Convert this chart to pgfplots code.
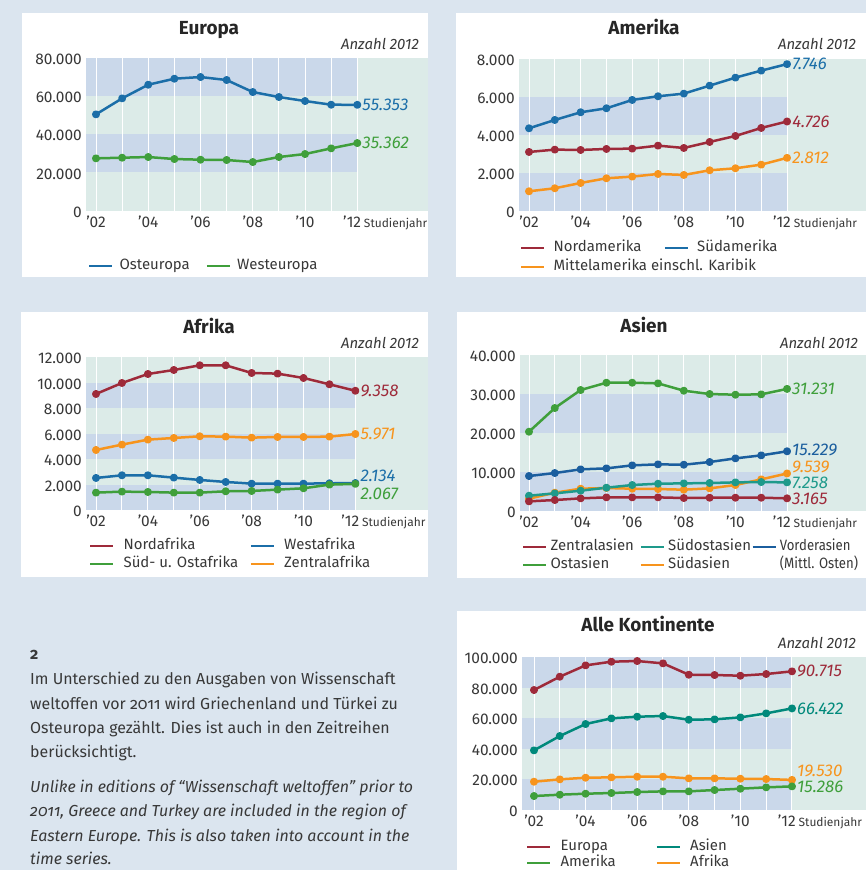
\documentclass[border=0pt]{standalone}
\usepackage{fontspec}
\setmainfont{Fira Sans}
\usepackage{graphicx}
\usepackage{pgfplots}
\pgfplotsset{compat=1.18}
\definecolor{pagebg}{HTML}{DBE5EF}
\definecolor{bandblue}{HTML}{CAD8EA}
\definecolor{bandgreen}{HTML}{DCEBE8}
\definecolor{cred}{HTML}{9E2A3A}
\definecolor{cblue}{HTML}{1B6EA8}
\definecolor{cgreen}{HTML}{3F9F3B}
\definecolor{corange}{HTML}{F7941D}
\definecolor{cteal}{HTML}{1E9A8B}
\definecolor{cteal2}{HTML}{00897B}
\definecolor{cdblue}{HTML}{1B5E9E}
\definecolor{txtgray}{HTML}{383838}
\newcommand\tickfont{\fontsize{15.5}{18}\selectfont}
\newcommand\legfont{\fontsize{15}{18}\selectfont}
\newcommand\valfont{\fontsize{17}{20}\selectfont\itshape}
\newcommand\titlefont{\fontsize{19}{22}\selectfont\bfseries}
\newcommand\anzfont{\fontsize{15}{18}\selectfont\itshape}
\newcommand\sjfont{\fontsize{12}{14}\selectfont}
\newcommand\bodyfont{\fontsize{16}{20}\selectfont}
\tikzset{vl/.style={anchor=west, font=\valfont, inner sep=0pt, xshift=5bp}}
\pgfplotsset{
  panel/.style={
    scale only axis, clip=false, anchor=south west,
    axis line style={draw=none}, tick style={draw=none},
    scaled y ticks=false,
    xtick={2,4,6,8,10}, xticklabels={’02,’04,’06,’08,’10},
    xticklabel style={font=\tickfont, anchor=base, inner sep=0pt, yshift=-16.5bp, text=txtgray},
    yticklabel style={font=\tickfont, anchor=east, inner sep=0pt, xshift=-4bp, yshift=-1.5bp, text=txtgray},
    ymin=0,
    every axis plot/.append style={line width=2.5bp, mark=*, mark size=2.7bp, line join=round},
    legend image code/.code={\draw[##1, line width=2.6bp] (0bp,0bp) -- (23bp,0bp);},
    legend style={draw=none, fill=none, inner sep=0pt, outer sep=0pt, anchor=north west,
      font=\legfont, text=txtgray,
      nodes={inner sep=0pt, text height=10.5bp, text depth=3.5bp}},
    legend cell align=left,
  },
}
\newcommand\yrlines[1]{%
  \draw[white, line width=1bp] (axis cs:2,0) -- (axis cs:2,#1);
  \draw[white, line width=1bp] (axis cs:3,0) -- (axis cs:3,#1);
  \draw[white, line width=1bp] (axis cs:4,0) -- (axis cs:4,#1);
  \draw[white, line width=1bp] (axis cs:5,0) -- (axis cs:5,#1);
  \draw[white, line width=1bp] (axis cs:6,0) -- (axis cs:6,#1);
  \draw[white, line width=1bp] (axis cs:7,0) -- (axis cs:7,#1);
  \draw[white, line width=1bp] (axis cs:8,0) -- (axis cs:8,#1);
  \draw[white, line width=1bp] (axis cs:9,0) -- (axis cs:9,#1);
  \draw[white, line width=1bp] (axis cs:10,0) -- (axis cs:10,#1);
  \draw[white, line width=1bp] (axis cs:11,0) -- (axis cs:11,#1);
  \draw[white, line width=1bp] (axis cs:12,0) -- (axis cs:12,#1);
  \node[anchor=base east, font=\tickfont, inner sep=0pt, text=txtgray] at (axis cs:12,0) [xshift=4bp, yshift=-16.5bp] {’12};
  \node[anchor=base west, font=\sjfont, inner sep=0pt, text=txtgray] at (axis cs:12,0) [xshift=6.5bp, yshift=-16.5bp] {Studienjahr};
}
\begin{document}
\begin{tikzpicture}
\path[use as bounding box] (0,0) rectangle (866bp,870bp);
\fill[pagebg] (0,0) rectangle (866bp,870bp);
\clip (0,0) rectangle (866bp,870bp);
% white panels
\fill[white] (22bp,593bp) rectangle (428bp,857bp);
\fill[white] (456bp,593bp) rectangle (866bp,857bp);
\fill[white] (21bp,293bp) rectangle (428bp,558bp);
\fill[white] (457bp,292bp) rectangle (866bp,558bp);
\fill[white] (457bp,0bp) rectangle (866bp,259bp);

% ---------------- Europa
\begin{axis}[panel, at={(86bp,659.3bp)}, width=342bp, height=153bp,
  xmin=1.617, xmax=14.706, ymax=80000,
  ytick={0,20000,40000,60000,80000}, yticklabels={0,20.000,40.000,60.000,80.000},
  legend columns=2,
  legend style={at={(axis description cs:0.0058,-0.3157)},
    /tikz/every odd column/.append style={column sep=6bp}}]
\fill[bandgreen] (axis cs:1.617,0) rectangle (axis cs:14.706,80000);
\fill[bandblue] (axis cs:1.617,20000) rectangle (axis cs:12,40000);
\fill[bandblue] (axis cs:1.617,60000) rectangle (axis cs:12,80000);
\yrlines{80000}
\addplot[cblue, forget plot] coordinates {(2,50370)(3,58736)(4,65882)(5,69020)(6,69891)(7,68322)(8,62048)(9,59434)(10,57342)(11,55425)(12,55353)};
\addplot[cgreen, forget plot] coordinates {(2,27364)(3,27712)(4,28061)(5,27015)(6,26667)(7,26492)(8,25447)(9,28061)(10,29630)(11,32593)(12,35362)};
\addlegendimage{cblue}\addlegendentry{\makebox[86bp][l]{Osteuropa}}
\addlegendimage{cgreen}\addlegendentry{Westeuropa}
\node[vl, text=cblue] at (axis cs:12,55353) {55.353};
\node[vl, text=cgreen] at (axis cs:12,35362) {35.362};
\end{axis}

% ---------------- Amerika
\begin{axis}[panel, at={(519bp,658.7bp)}, width=347bp, height=152bp,
  xmin=1.612, xmax=15.06, ymax=8000,
  ytick={0,2000,4000,6000,8000}, yticklabels={0,2.000,4.000,6.000,8.000},
  legend columns=2,
  legend style={at={(axis description cs:0.0029,-0.1954)}, row sep=5bp,
    /tikz/every odd column/.append style={column sep=8bp}}]
\fill[bandgreen] (axis cs:1.612,0) rectangle (axis cs:15.06,8000);
\fill[bandblue] (axis cs:1.612,0) rectangle (axis cs:12,2000);
\fill[bandblue] (axis cs:1.612,4000) rectangle (axis cs:12,6000);
\yrlines{8000}
\addplot[cred, forget plot] coordinates {(2,3123)(3,3246)(4,3228)(5,3281)(6,3298)(7,3456)(8,3333)(9,3649)(10,3965)(11,4386)(12,4726)};
\addplot[cblue, forget plot] coordinates {(2,4368)(3,4807)(4,5211)(5,5421)(6,5860)(7,6053)(8,6193)(9,6614)(10,7035)(11,7404)(12,7746)};
\addplot[corange, forget plot] coordinates {(2,1053)(3,1211)(4,1491)(5,1737)(6,1825)(7,1965)(8,1912)(9,2158)(10,2263)(11,2456)(12,2812)};
\addlegendimage{cred}\addlegendentry{\makebox[110bp][l]{Nordamerika}}
\addlegendimage{cblue}\addlegendentry{Südamerika}
\addlegendimage{corange}\addlegendentry{\makebox[110bp][l]{Mittelamerika einschl. Karibik}}
\node[vl, text=cblue] at (axis cs:12,7746) {7.746};
\node[vl, text=cred] at (axis cs:12,4726) {4.726};
\node[vl, text=corange] at (axis cs:12,2812) {2.812};
\end{axis}

% ---------------- Afrika
\begin{axis}[panel, at={(86bp,359.7bp)}, width=342bp, height=153.3bp,
  xmin=1.614, xmax=14.80, ymax=12000,
  ytick={0,2000,4000,6000,8000,10000,12000}, yticklabels={0,2.000,4.000,6.000,8.000,10.000,12.000},
  legend columns=2,
  legend style={at={(axis description cs:0.0088,-0.1872)}, row sep=4bp,
    /tikz/every odd column/.append style={column sep=9bp}}]
\fill[bandgreen] (axis cs:1.614,0) rectangle (axis cs:14.80,12000);
\fill[bandblue] (axis cs:1.614,0) rectangle (axis cs:12,2000);
\fill[bandblue] (axis cs:1.614,4000) rectangle (axis cs:12,6000);
\fill[bandblue] (axis cs:1.614,8000) rectangle (axis cs:12,10000);
\yrlines{12000}
\addplot[cred, forget plot] coordinates {(2,9105)(3,9966)(4,10670)(5,10983)(6,11349)(7,11349)(8,10749)(9,10697)(10,10357)(11,9862)(12,9358)};
\addplot[cblue, forget plot] coordinates {(2,2531)(3,2739)(4,2739)(5,2557)(6,2374)(7,2218)(8,2087)(9,2087)(10,2087)(11,2113)(12,2134)};
\addplot[cgreen, forget plot] coordinates {(2,1383)(3,1461)(4,1435)(5,1383)(6,1383)(7,1487)(8,1513)(9,1618)(10,1722)(11,2009)(12,2067)};
\addplot[corange, forget plot] coordinates {(2,4722)(3,5140)(4,5531)(5,5661)(6,5792)(7,5766)(8,5687)(9,5740)(10,5740)(11,5766)(12,5971)};
\addlegendimage{cred}\addlegendentry{\makebox[126bp][l]{Nordafrika}}
\addlegendimage{cblue}\addlegendentry{Westafrika}
\addlegendimage{cgreen}\addlegendentry{\makebox[126bp][l]{Süd- u. Ostafrika}}
\addlegendimage{corange}\addlegendentry{Zentralafrika}
\node[vl, text=cred] at (axis cs:12,9358) {9.358};
\node[vl, text=corange] at (axis cs:12,5971) {5.971};
\node[vl, text=cblue, yshift=7.5bp] at (axis cs:12,2134) {2.134};
\node[vl, text=cgreen, yshift=-10bp] at (axis cs:12,2067) {2.067};
\end{axis}

% ---------------- Asien
\begin{axis}[panel, at={(520bp,359.3bp)}, width=346bp, height=156bp,
  xmin=1.651, xmax=15.06, ymax=40000,
  ytick={0,10000,20000,30000,40000}, yticklabels={0,10.000,20.000,30.000,40.000},
  legend columns=3,
  legend style={at={(axis description cs:0.0058,-0.1878)}, row sep=4bp,
    /tikz/every odd column/.append style={column sep=3bp}}]
\fill[bandgreen] (axis cs:1.651,0) rectangle (axis cs:15.06,40000);
\fill[bandblue] (axis cs:1.651,0) rectangle (axis cs:12,10000);
\fill[bandblue] (axis cs:1.651,20000) rectangle (axis cs:12,30000);
\yrlines{40000}
\addplot[cgreen, forget plot] coordinates {(2,20256)(3,26325)(4,30940)(5,32821)(6,32821)(7,32650)(8,30769)(9,29915)(10,29744)(11,29829)(12,31231)};
\addplot[cdblue, forget plot] coordinates {(2,8889)(3,9658)(4,10598)(5,10855)(6,11624)(7,11880)(8,11795)(9,12479)(10,13419)(11,14188)(12,15229)};
\addplot[corange, forget plot] coordinates {(2,3077)(3,4615)(4,5641)(5,5812)(6,5641)(7,5556)(8,5385)(9,5726)(10,6581)(11,8034)(12,9539)};
\addplot[cteal, forget plot] coordinates {(2,3846)(3,4444)(4,5128)(5,5897)(6,6581)(7,6923)(8,7009)(9,7094)(10,7265)(11,7350)(12,7258)};
\addplot[cred, forget plot] coordinates {(2,2393)(3,2735)(4,3162)(5,3419)(6,3419)(7,3419)(8,3248)(9,3333)(10,3333)(11,3333)(12,3165)};
\addlegendimage{cred}\addlegendentry{\makebox[89bp][l]{Zentralasien}}
\addlegendimage{cteal}\addlegendentry{\makebox[83bp][l]{Südostasien}}
\addlegendimage{cdblue}\addlegendentry{\smash{\scalebox{0.88}[1]{\vtop{\hbox{Vorderasien}\hbox{(Mittl. Osten)}}}}}
\addlegendimage{cgreen}\addlegendentry{\makebox[89bp][l]{Ostasien}}
\addlegendimage{corange}\addlegendentry{\makebox[83bp][l]{Südasien}}
\node[vl, text=cgreen] at (axis cs:12,31231) {31.231};
\node[vl, text=cdblue, yshift=1bp] at (axis cs:12,15229) {15.229};
\node[vl, text=corange, yshift=6.5bp] at (axis cs:12,9539) {9.539};
\node[vl, text=cteal, yshift=-0.5bp] at (axis cs:12,7258) {7.258};
\node[vl, text=cred] at (axis cs:12,3165) {3.165};
\end{axis}

% ---------------- Alle Kontinente
\begin{axis}[panel, at={(522bp,60.3bp)}, width=344bp, height=152.5bp,
  xmin=1.535, xmax=14.87, ymax=100000,
  ytick={0,20000,40000,60000,80000,100000}, yticklabels={0,20.000,40.000,60.000,80.000,100.000},
  legend columns=2,
  legend style={at={(axis description cs:0.0116,-0.1987)}, row sep=2bp,
    /tikz/every odd column/.append style={column sep=9bp}}]
\fill[bandgreen] (axis cs:1.535,0) rectangle (axis cs:14.87,100000);
\fill[bandblue] (axis cs:1.535,0) rectangle (axis cs:12,20000);
\fill[bandblue] (axis cs:1.535,40000) rectangle (axis cs:12,60000);
\fill[bandblue] (axis cs:1.535,80000) rectangle (axis cs:12,100000);
\yrlines{100000}
\addplot[cred, forget plot] coordinates {(2,78470)(3,87213)(4,94645)(5,97049)(6,97486)(7,95956)(8,88525)(9,88306)(10,87869)(11,88962)(12,90715)};
\addplot[cteal2, forget plot] coordinates {(2,38907)(3,48306)(4,56175)(5,59891)(6,60984)(7,61421)(8,59016)(9,59235)(10,60546)(11,63169)(12,66422)};
\addplot[corange, forget plot] coordinates {(2,18361)(3,19891)(4,20984)(5,21202)(6,21639)(7,21639)(8,20546)(9,20546)(10,20328)(11,20109)(12,19530)};
\addplot[cgreen, forget plot] coordinates {(2,8962)(3,9836)(4,10492)(5,10929)(6,11585)(7,12022)(8,12022)(9,12896)(10,13770)(11,14645)(12,15286)};
\addlegendimage{cred}\addlegendentry{\makebox[95bp][l]{Europa}}
\addlegendimage{cteal2}\addlegendentry{Asien}
\addlegendimage{cgreen}\addlegendentry{\makebox[95bp][l]{Amerika}}
\addlegendimage{corange}\addlegendentry{Afrika}
\node[vl, text=cred] at (axis cs:12,90715) {90.715};
\node[vl, text=cteal2] at (axis cs:12,66422) {66.422};
\node[vl, text=corange, yshift=8.5bp] at (axis cs:12,19530) {19.530};
\node[vl, text=cgreen, yshift=-0.5bp] at (axis cs:12,15286) {15.286};
\end{axis}

% titles
\node[anchor=base, font=\titlefont, text=black!85, inner sep=0pt] at (209bp,835.7bp) {Europa};
\node[anchor=base, font=\titlefont, text=black!85, inner sep=0pt] at (644bp,835.7bp) {Amerika};
\node[anchor=base, font=\titlefont, text=black!85, inner sep=0pt] at (209bp,536.7bp) {Afrika};
\node[anchor=base, font=\titlefont, text=black!85, inner sep=0pt] at (644bp,537.7bp) {Asien};
\node[anchor=base, font=\titlefont, text=black!85, inner sep=0pt] at (648bp,238.7bp) {Alle Kontinente};
\node[anchor=base east, font=\anzfont, text=txtgray, inner sep=0pt] at (419bp,820.7bp) {Anzahl 2012};
\node[anchor=base east, font=\anzfont, text=txtgray, inner sep=0pt] at (856bp,820.7bp) {Anzahl 2012};
\node[anchor=base east, font=\anzfont, text=txtgray, inner sep=0pt] at (419bp,521.7bp) {Anzahl 2012};
\node[anchor=base east, font=\anzfont, text=txtgray, inner sep=0pt] at (858bp,521.7bp) {Anzahl 2012};
\node[anchor=base east, font=\anzfont, text=txtgray, inner sep=0pt] at (856bp,221.7bp) {Anzahl 2012};

% footnote text
\begin{scope}[every node/.style={anchor=base west, inner sep=0pt, text=txtgray, font=\bodyfont\addfontfeatures{Numbers=OldStyle}}]
\node at (30bp,210.7bp) {\bfseries 2};
\node at (30bp,185bp) {Im Unterschied zu den Ausgaben von Wissenschaft};
\node at (30bp,160.7bp) {weltoffen vor 2011 wird Griechenland und Türkei zu};
\node at (30bp,136.3bp) {Osteuropa gezählt. Dies ist auch in den Zeitreihen};
\node at (30bp,112.3bp) {berücksichtigt.};
\node at (30bp,77.3bp) {\itshape Unlike in editions of “Wissenschaft weltoffen” prior to};
\node at (30bp,53.3bp) {\itshape 2011, Greece and Turkey are included in the region of};
\node at (30bp,29bp) {\itshape Eastern Europe. This is also taken into account in the};
\node at (30bp,5.7bp) {\itshape time series.};
\end{scope}
\end{tikzpicture}
\end{document}
